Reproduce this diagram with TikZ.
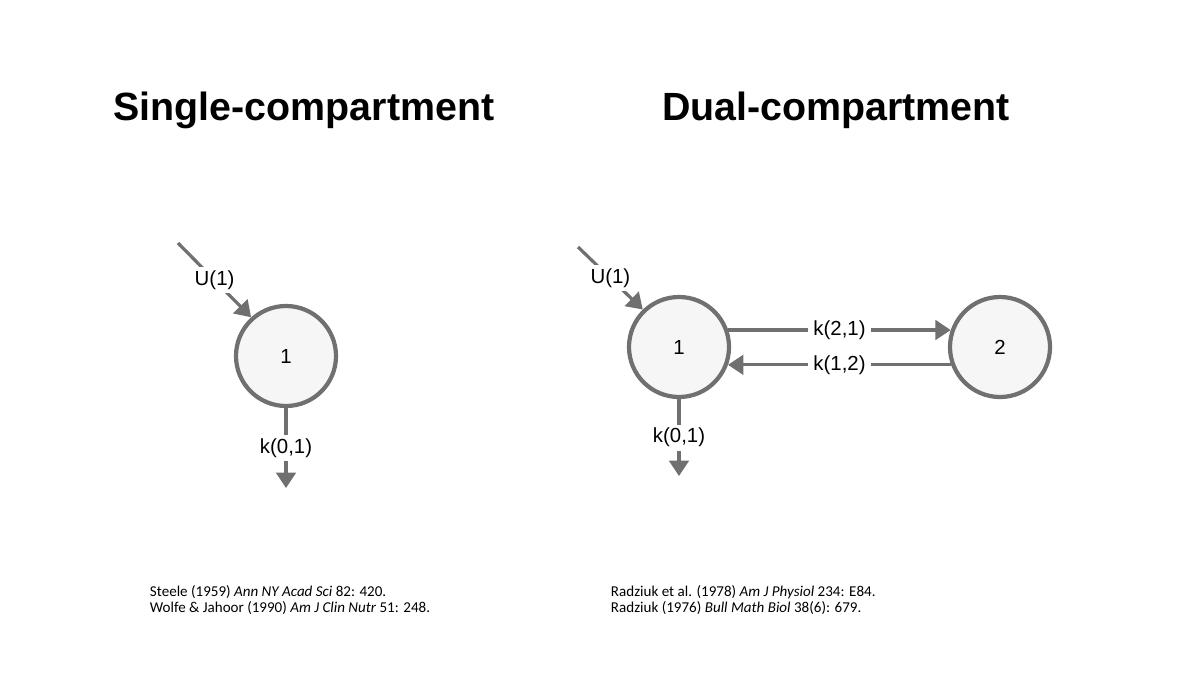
\documentclass[tikz,border=0pt]{standalone}
\usepackage{fontspec}
\setmainfont{Liberation Sans}
\newfontfamily\reffont{Carlito}
\usetikzlibrary{arrows.meta,positioning}
\definecolor{ink}{HTML}{000000}
\definecolor{edge}{HTML}{707070}
\definecolor{compbg}{HTML}{F6F6F6}
\tikzset{
  comp/.style={circle,draw=edge,fill=compbg,line width=3pt,inner sep=0pt,
               minimum size=2.5cm,font=\fontsize{14.5}{17}\selectfont},
  flow/.style={-{Triangle[length=11pt,width=14pt]},draw=edge,line width=2.3pt},
  rate/.style={fill=white,inner xsep=4pt,inner ysep=2.5pt,
               font=\fontsize{14.5}{17}\selectfont},
  heading/.style={font=\fontsize{28}{32}\selectfont\bfseries,ink},
  refs/.style={anchor=west,align=left,font=\reffont\fontsize{10.7}{11.2}\selectfont},
}
\begin{document}
\begin{tikzpicture}[x=0.025cm,y=-0.025cm]
  % page: 1200 x 675
  \useasboundingbox (0,0) rectangle (1200,675);

  % Titles
  \node[heading] (single) at (304,110) {Single-compartment};
  \node[heading] (dual) at (836,110) {Dual-compartment};

  % Single-compartment model
  \node[comp] (sone) at (286,356) {1};
  \coordinate (sin) at (178,243);
  \coordinate (sout) at (286,488);
  \draw[flow] (sin) -- node[rate]{U(1)} (sone.132);
  \draw[flow] (sone.south) -- node[rate]{k(0,1)} (sout);

  % Dual-compartment model
  \node[comp] (done) at (679,347) {1};
  \node[comp] (dtwo) at (1000,347) {2};
  \coordinate (din) at (578,247);
  \coordinate (dout) at (679,476);
  \draw[flow] (din) -- node[rate]{U(1)} (done.134);
  \draw[flow] (done.south) -- node[rate]{k(0,1)} (dout);
  \draw[flow] (done.19) -- node[rate]{k(2,1)} (dtwo.161);
  \draw[flow] (dtwo.200) -- node[rate]{k(1,2)} (done.-20);

  % References
  \node[refs] (sref) at (145,600)
    {Steele (1959) \textit{Ann NY Acad Sci} 82: 420.\\
     Wolfe \& Jahoor (1990) \textit{Am J Clin Nutr} 51: 248.};
  \node[refs] (dref) at (606,600)
    {Radziuk et al. (1978) \textit{Am J Physiol} 234: E84.\\
     Radziuk (1976) \textit{Bull Math Biol} 38(6): 679.};
\end{tikzpicture}
\end{document}
